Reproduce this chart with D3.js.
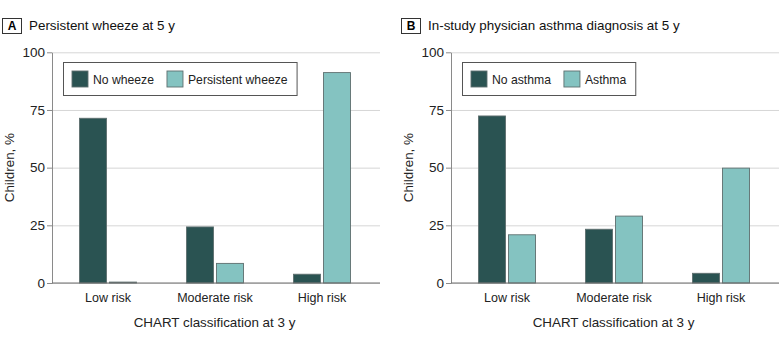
<!DOCTYPE html>
<html>
<head>
<meta charset="utf-8">
<script src="https://cdn.jsdelivr.net/npm/d3@7"></script>
<style>
  body { margin: 0; background: #fff; }
  svg { display: block; font-family: "Liberation Sans", Arial, sans-serif; }
</style>
</head>
<body>
<div id="chart"></div>
<script>
// values (percent of children)
var categories = ["Low risk", "Moderate risk", "High risk"];
var yTicks = [0, 25, 50, 75, 100];

var wheezeSeries = ["No wheeze", "Persistent wheeze"];
var noWheeze = [71.4, 24.3, 3.8];
var persistentWheeze = [0.4, 8.5, 91.2];

var asthmaSeries = ["No asthma", "Asthma"];
var noAsthma = [72.4, 23.3, 4.2];
var asthma = [20.9, 29.0, 49.8];

var colors = ["#2a5352", "#84c3c1"];

var svg = d3.select("#chart").append("svg")
    .attr("width", 783)
    .attr("height", 338);

/*shared y scale*/
var yScale = d3.scaleLinear().domain([0, 100]).range([283, 52.3]);

function drawPanel(left, letter, title, series, values) {
    var plotW = 328;
    var g = svg.append("g");

    /*panel letter box + title*/
    g.append("rect")
        .attr("x", left - 49.5).attr("y", 18.5)
        .attr("width", 19).attr("height", 15)
        .attr("fill", "#fff").attr("stroke", "#333").attr("stroke-width", 1);
    g.append("text")
        .attr("x", left - 40).attr("y", 30.3)
        .attr("text-anchor", "middle")
        .style("font-size", "12px").style("font-weight", "bold")
        .text(letter);
    g.append("text")
        .attr("x", left - 23).attr("y", 30)
        .style("font-size", "13.4px")
        .attr("fill", "#111")
        .text(title);

    /*gridlines*/
    g.append("g")
        .attr("transform", "translate(" + left + ",0)")
        .call(d3.axisLeft(yScale).tickValues(yTicks).tickSize(-plotW).tickFormat(""))
        .call(function (a) {
            a.select(".domain").remove();
            a.selectAll("line").attr("stroke", "#d6d6d6");
        });

    /*y axis*/
    g.append("g")
        .attr("transform", "translate(" + left + ",0)")
        .call(d3.axisLeft(yScale).tickValues(yTicks).tickSize(5).tickPadding(2).tickSizeOuter(0))
        .call(function (a) {
            a.select(".domain").attr("stroke", "#8a8a8a");
            a.selectAll("line").attr("stroke", "#8a8a8a");
            a.selectAll("text").style("font-size", "13.5px").attr("fill", "#222").attr("font-family", null);
        });

    /*y label*/
    g.append("text")
        .attr("transform", "rotate(-90)")
        .attr("x", -(yScale(0) + yScale(100)) / 2)
        .attr("y", left - 38.5)
        .attr("text-anchor", "middle")
        .style("font-size", "13.4px")
        .attr("fill", "#222")
        .text("Children, %");

    var x0 = d3.scaleBand().domain(categories).range([left + 2.5, left + 323.5]);
    var x1 = d3.scaleBand().domain(series)
        .range([x0.bandwidth() / 2 - 28.5, x0.bandwidth() / 2 + 28.5])
        .paddingInner(0.1);

    var rows = [];
    categories.forEach(function (c, i) {
        series.forEach(function (s, j) {
            rows.push({cat: c, ser: s, idx: j, value: values[j][i]});
        });
    });

    g.selectAll(".bar")
        .data(rows)
        .join("rect")
        .attr("class", "bar")
        .attr("x", function (d) { return x0(d.cat) + x1(d.ser); })
        .attr("y", function (d) { return yScale(d.value); })
        .attr("width", x1.bandwidth())
        .attr("height", function (d) { return yScale(0) - yScale(d.value); })
        .attr("fill", function (d) { return colors[d.idx]; })
        .attr("stroke", "#5e6f6f")
        .attr("stroke-width", 0.9);

    /*x axis*/
    g.append("line")
        .attr("x1", left).attr("x2", left + plotW)
        .attr("y1", yScale(0)).attr("y2", yScale(0))
        .attr("stroke", "#6e6e6e").attr("stroke-width", 1);

    g.append("g")
        .selectAll("text")
        .data(categories)
        .join("text")
        .attr("x", function (d) { return x0(d) + x0.bandwidth() / 2; })
        .attr("y", yScale(0) + 18.7)
        .attr("text-anchor", "middle")
        .style("font-size", "12.5px")
        .attr("fill", "#222")
        .text(function (d) { return d; });

    g.append("text")
        .attr("x", left + 162.5)
        .attr("y", yScale(0) + 44)
        .attr("text-anchor", "middle")
        .style("font-size", "13.4px")
        .attr("fill", "#222")
        .text("CHART classification at 3 y");

    /*legend*/
    var lg = g.append("g").attr("transform", "translate(" + (left + 11) + ",62)");
    var box = lg.append("rect")
        .attr("x", 0.5).attr("y", 0.5).attr("height", 33)
        .attr("fill", "#fff").attr("stroke", "#555").attr("stroke-width", 1);
    var cx = 9;
    series.forEach(function (s, j) {
        lg.append("rect")
            .attr("x", cx).attr("y", 9)
            .attr("width", 16).attr("height", 16)
            .attr("fill", colors[j]).attr("stroke", "#5e6f6f").attr("stroke-width", 0.9);
        var t = lg.append("text")
            .attr("x", cx + 21).attr("y", 22)
            .style("font-size", "12.2px")
            .attr("fill", "#222")
            .text(s);
        cx = cx + 21 + t.node().getComputedTextLength() + 13;
    });
    box.attr("width", cx - 13 + 9);
}

drawPanel(52, "A", "Persistent wheeze at 5 y", wheezeSeries, [noWheeze, persistentWheeze]);
drawPanel(451, "B", "In-study physician asthma diagnosis at 5 y", asthmaSeries, [noAsthma, asthma]);
</script>
</body>
</html>
